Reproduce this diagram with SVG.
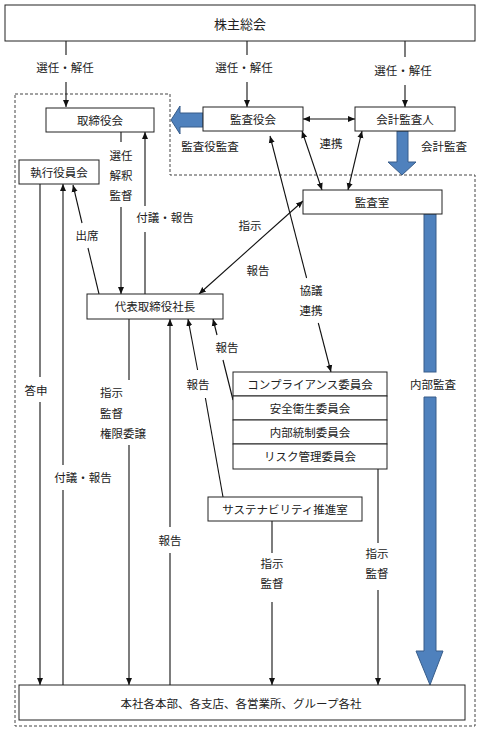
<svg xmlns="http://www.w3.org/2000/svg" width="481" height="732" viewBox="0 0 481 732">
<style>
text{font-family:"Noto Sans CJK JP","Noto Sans",sans-serif;font-size:11.5px;fill:#222;text-anchor:middle;dominant-baseline:central}
.box{fill:#fff;stroke:#222;stroke-width:1}
.ln{fill:none;stroke:#111;stroke-width:1.1}
.blue{fill:#4f81bd;stroke:#385d8a;stroke-width:1}
.dash{fill:none;stroke:#444;stroke-width:1;stroke-dasharray:3 2}
.l{text-anchor:start}
</style>
<defs>
<marker id="ah" markerUnits="userSpaceOnUse" markerWidth="8" markerHeight="8" viewBox="0 0 8 8" refX="7" refY="4" orient="auto-start-reverse">
<path d="M0,1 L7,4 L0,7 z" fill="#111"/>
</marker>
</defs>
<rect width="481" height="732" fill="#fff"/>
<path class="dash" d="M15,94 H170 V175 H475 V726 H15 Z"/>

<g id="connectors">
<!-- shareholders -->
<line class="ln" x1="66" y1="41" x2="66" y2="55"/>
<line class="ln" x1="66" y1="82" x2="66" y2="107" marker-end="url(#ah)"/>
<text x="65" y="67">選任・解任</text>
<line class="ln" x1="247" y1="41" x2="247" y2="55"/>
<line class="ln" x1="247" y1="82" x2="247" y2="107" marker-end="url(#ah)"/>
<text x="244" y="67">選任・解任</text>
<line class="ln" x1="405" y1="41" x2="405" y2="57"/>
<line class="ln" x1="405" y1="85" x2="405" y2="107" marker-end="url(#ah)"/>
<text x="403" y="70">選任・解任</text>
<!-- audit arrows -->
<polygon class="blue" points="203,113 180,113 180,106 171,120 180,134 180,127 203,127"/>
<text x="210" y="146">監査役監査</text>
<line class="ln" x1="303" y1="119" x2="355" y2="119" marker-start="url(#ah)" marker-end="url(#ah)"/>
<text x="331" y="143">連携</text>
<polygon class="blue" points="397,131 408,131 408,162 416,162 402,175 388,162 397,162"/>
<text x="444" y="146">会計監査</text>
<line class="ln" x1="302" y1="131" x2="322" y2="190" marker-start="url(#ah)" marker-end="url(#ah)"/>
<line class="ln" x1="362" y1="131" x2="348" y2="190" marker-start="url(#ah)" marker-end="url(#ah)"/>
<line class="ln" x1="306.6" y1="278" x2="270" y2="136" marker-end="url(#ah)"/>
<line class="ln" x1="318.3" y1="323" x2="331" y2="372" marker-end="url(#ah)"/>
<text x="311" y="290">協議</text>
<text x="311" y="310">連携</text>
<line class="ln" x1="303" y1="201" x2="199" y2="294" marker-start="url(#ah)" marker-end="url(#ah)"/>
<text x="250" y="225">指示</text>
<text x="258" y="270">報告</text>
<!-- internal audit -->
<rect class="blue" x="424" y="214" width="12" height="158"/>
<polygon class="blue" points="424,397 436,397 436,651 443,651 430,685 416,651 424,651"/>
<text x="433" y="384">内部監査</text>
<!-- board <-> president -->
<line class="ln" x1="121" y1="132" x2="121" y2="142"/>
<line class="ln" x1="121" y1="207" x2="121" y2="294" marker-end="url(#ah)"/>
<text x="121" y="155">選任</text>
<text x="121" y="175">解釈</text>
<text x="121" y="195">監督</text>
<line class="ln" x1="145" y1="294" x2="145" y2="232"/>
<line class="ln" x1="145" y1="206" x2="145" y2="132" marker-end="url(#ah)"/>
<text x="165" y="217">付議・報告</text>
<!-- executive committee -->
<line class="ln" x1="40" y1="184" x2="40" y2="377"/>
<line class="ln" x1="40" y1="402" x2="40" y2="685" marker-end="url(#ah)"/>
<text x="36" y="390">答申</text>
<line class="ln" x1="63" y1="685" x2="63" y2="490"/>
<line class="ln" x1="63" y1="465" x2="63" y2="184" marker-end="url(#ah)"/>
<text x="83" y="477">付議・報告</text>
<line class="ln" x1="99" y1="294" x2="88" y2="248"/>
<line class="ln" x1="82" y1="223" x2="73" y2="185" marker-end="url(#ah)"/>
<text x="87" y="235">出席</text>
<!-- president down -->
<line class="ln" x1="129" y1="319" x2="129" y2="380"/>
<line class="ln" x1="129" y1="445" x2="129" y2="685" marker-end="url(#ah)"/>
<text class="l" x="100" y="392">指示</text>
<text class="l" x="100" y="413">監督</text>
<text class="l" x="100" y="433">権限委譲</text>
<line class="ln" x1="170" y1="685" x2="170" y2="553"/>
<line class="ln" x1="170" y1="527" x2="170" y2="319" marker-end="url(#ah)"/>
<text x="170" y="540">報告</text>
<line class="ln" x1="223" y1="497" x2="205.4" y2="398"/>
<line class="ln" x1="197.6" y1="370" x2="188" y2="319" marker-end="url(#ah)"/>
<text x="198" y="384">報告</text>
<line class="ln" x1="233" y1="400" x2="223" y2="360"/>
<line class="ln" x1="217" y1="335" x2="213" y2="319" marker-end="url(#ah)"/>
<text x="227" y="347">報告</text>
<line class="ln" x1="272" y1="521" x2="272" y2="553"/>
<line class="ln" x1="272" y1="602" x2="272" y2="685" marker-end="url(#ah)"/>
<text x="272" y="563">指示</text>
<text x="272" y="583">監督</text>
<line class="ln" x1="378" y1="469" x2="378" y2="543"/>
<line class="ln" x1="378" y1="590" x2="378" y2="685" marker-end="url(#ah)"/>
<text x="377" y="553">指示</text>
<text x="377" y="573">監督</text>
</g>

<g id="n-shareholders"><rect class="box" x="5" y="5" width="470" height="36"/><text x="240" y="23" style="font-size:13px">株主総会</text></g>
<g id="n-board"><rect class="box" x="46" y="108" width="108" height="24"/><text x="100" y="120">取締役会</text></g>
<g id="n-auditboard"><rect class="box" x="203" y="107" width="100" height="24"/><text x="253" y="119">監査役会</text></g>
<g id="n-accountant"><rect class="box" x="355" y="107" width="100" height="24"/><text x="405" y="119">会計監査人</text></g>
<g id="n-exec"><rect class="box" x="19" y="160" width="80" height="24"/><text x="59" y="172">執行役員会</text></g>
<g id="n-auditoffice"><rect class="box" x="303" y="190" width="139" height="24"/><text x="372" y="202">監査室</text></g>
<g id="n-president"><rect class="box" x="87" y="294" width="136" height="25"/><text x="155" y="306">代表取締役社長</text></g>
<g id="n-committees">
<rect class="box" x="233" y="372" width="154" height="24"/><text x="310" y="384">コンプライアンス委員会</text>
<rect class="box" x="233" y="396" width="154" height="24"/><text x="310" y="408">安全衛生委員会</text>
<rect class="box" x="233" y="420" width="154" height="24"/><text x="310" y="432">内部統制委員会</text>
<rect class="box" x="233" y="444" width="154" height="25"/><text x="310" y="456">リスク管理委員会</text>
</g>
<g id="n-sustain"><rect class="box" x="208" y="497" width="154" height="24"/><text x="285" y="509">サステナビリティ推進室</text></g>
<g id="n-branches"><rect class="box" x="19" y="685" width="446" height="35"/><text x="241" y="703">本社各本部、各支店、各営業所、グループ各社</text></g>
</svg>
